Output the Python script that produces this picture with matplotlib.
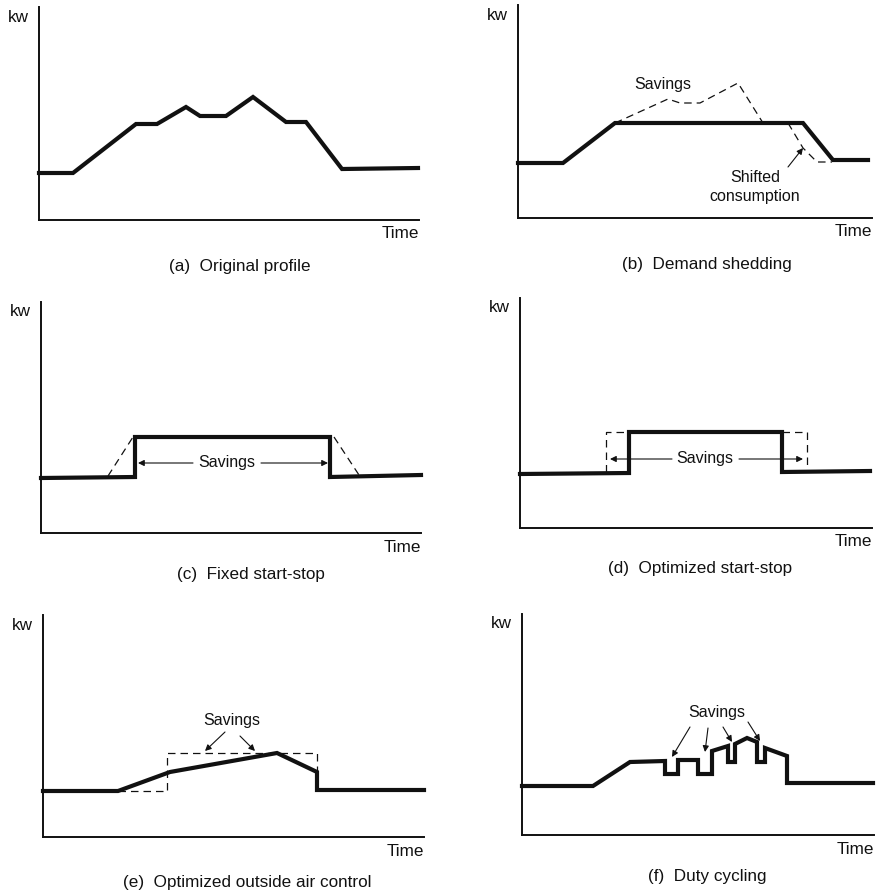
import matplotlib
matplotlib.use("Agg")
import matplotlib.pyplot as plt

plt.rcParams['font.family'] = ['Liberation Sans', 'DejaVu Sans']

a_time = [0, 34, 97, 118, 147, 161, 187, 214, 247, 267, 303, 379]
a_kw = [47, 47, 96, 96, 113, 104, 104, 123, 98, 98, 51, 52]

b_time = [0, 45, 97, 285, 315, 350]
b_kw = [55, 55, 95, 95, 58, 58]
b_peak_time = [97, 150, 162, 182, 220, 245]
b_peak_kw = [95, 119, 115, 115, 135, 95]
b_shift_time = [270, 285, 299, 314]
b_shift_kw = [95, 70, 56, 56]

c_time = [0, 94, 94, 289, 289, 380]
c_kw = [55, 56, 96, 96, 56, 58]
c_up_time = [67, 92]
c_up_kw = [57, 96]
c_down_time = [293, 318]
c_down_kw = [96, 58]

d_time = [0, 109, 109, 262, 262, 350]
d_kw = [54, 55, 96, 96, 56, 57]
d_early_time = [86, 86, 109]
d_early_kw = [56, 96, 96]
d_late_time = [262, 287, 287]
d_late_kw = [96, 96, 57]

e_time = [0, 75, 127, 234, 274, 274, 381]
e_kw = [46, 46, 65, 84, 65, 47, 47]
e_fixed_time = [75, 124, 124, 274, 274]
e_fixed_kw = [46, 46, 84, 84, 65]

f_time = [0, 71, 108, 143, 143, 156, 156, 176, 176, 190, 190, 206, 206, 213,
          213, 225, 235, 235, 243, 243, 265, 265, 351]
f_kw = [49, 49, 73, 74, 61, 61, 75, 75, 61, 61, 84, 89, 73, 73,
        91, 97, 93, 73, 73, 87, 79, 52, 52]

captions = ["(a)  Original profile", "(b)  Demand shedding",
            "(c)  Fixed start-stop", "(d)  Optimized start-stop",
            "(e)  Optimized outside air control", "(f)  Duty cycling"]

W, H = 879, 893
fig = plt.figure(figsize=(W / 100, H / 100), dpi=100)
fig.patch.set_facecolor("white")

INK = "#111111"
FS = 12.3
FS_NOTE = 11.5


def panel(ox, oy, w, h, caption, cap_x, cap_y):
    # one unit = one pixel, origin at the axis corner
    ax = fig.add_axes([ox / W, (H - oy) / H, w / W, h / H])
    ax.set_xlim(0, w)
    ax.set_ylim(0, h)
    for s in ["top", "right"]:
        ax.spines[s].set_visible(False)
    for s in ["left", "bottom"]:
        ax.spines[s].set_linewidth(1.4)
        ax.spines[s].set_color(INK)
    ax.set_xticks([])
    ax.set_yticks([])
    ax.patch.set_alpha(0)
    ax.text(-10, h - 10, "kw", ha="right", va="center", fontsize=FS, color=INK)
    ax.text(w, -14, "Time", ha="right", va="center", fontsize=FS, color=INK)
    ax.text(cap_x, cap_y, caption, ha="center", va="center", fontsize=FS, color=INK)
    return ax


def solid(ax, x, y):
    ax.plot(x, y, color=INK, lw=3.0, solid_joinstyle="miter", clip_on=False)


def dashed(ax, x, y):
    ax.plot(x, y, color=INK, lw=0.9, ls=(0, (6, 4)), clip_on=False)


def arrow(ax, tail, head):
    ax.annotate("", xy=head, xytext=tail,
                arrowprops=dict(arrowstyle="-|>", color=INK, lw=0.8,
                                mutation_scale=9, shrinkA=0, shrinkB=0))


# (a)
ax = panel(39, 220, 380, 213, captions[0], 201, -46)
solid(ax, a_time, a_kw)

# (b)
ax = panel(518, 218, 354, 213, captions[1], 189, -47)
dashed(ax, b_peak_time, b_peak_kw)
dashed(ax, b_shift_time, b_shift_kw)
solid(ax, b_time, b_kw)
ax.text(145, 133, "Savings", ha="center", va="center", fontsize=FS_NOTE, color=INK)
ax.text(237, 31, "Shifted\nconsumption", ha="center", va="center",
        fontsize=FS_NOTE, color=INK, linespacing=1.25)
arrow(ax, (270, 51), (285, 70))

# (c)
ax = panel(41, 533, 380, 231, captions[2], 210, -42)
dashed(ax, c_up_time, c_up_kw)
dashed(ax, c_down_time, c_down_kw)
solid(ax, c_time, c_kw)
ax.text(186, 70, "Savings", ha="center", va="center", fontsize=FS_NOTE, color=INK)
arrow(ax, (152, 70), (97, 70))
arrow(ax, (220, 70), (287, 70))

# (d)
ax = panel(520, 528, 352, 230, captions[3], 180, -41)
dashed(ax, d_early_time, d_early_kw)
dashed(ax, d_late_time, d_late_kw)
solid(ax, d_time, d_kw)
ax.text(185, 69, "Savings", ha="center", va="center", fontsize=FS_NOTE, color=INK)
arrow(ax, (152, 69), (90, 69))
arrow(ax, (219, 69), (283, 69))

# (e)
ax = panel(43, 837, 381, 222, captions[4], 204, -46)
dashed(ax, e_fixed_time, e_fixed_kw)
solid(ax, e_time, e_kw)
ax.text(189, 117, "Savings", ha="center", va="center", fontsize=FS_NOTE, color=INK)
arrow(ax, (182, 105), (162, 86))
arrow(ax, (197, 101), (212, 86))

# (f)
ax = panel(522, 835, 352, 221, captions[5], 185, -41)
solid(ax, f_time, f_kw)
ax.text(195, 122, "Savings", ha="center", va="center", fontsize=FS_NOTE, color=INK)
arrow(ax, (168, 108), (150, 78))
arrow(ax, (186, 107), (183, 83))
arrow(ax, (201, 108), (210, 93))
arrow(ax, (226, 113), (238, 94))

fig.savefig("out.png", dpi=100, facecolor="white")
